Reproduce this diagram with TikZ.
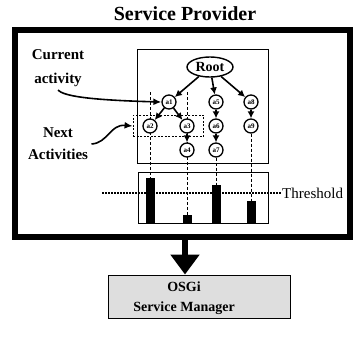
\documentclass[tikz,border=0pt]{standalone}
\usepackage{fontspec}
\setmainfont{Liberation Serif}
\usetikzlibrary{arrows.meta,shapes.geometric,fit}

\begin{document}
\begin{tikzpicture}[
    x=1pt, y=-1pt,
    act/.style={
        draw,
        circle,
        fill=white,
        line width=1.3pt,
        minimum size=14pt,
        inner sep=0pt,
        font=\bfseries\fontsize{7}{7}\selectfont,
      },
    bar/.style={fill=black, minimum width=9pt, inner sep=0pt, anchor=south},
    lbl/.style={align=center, font=\bfseries\fontsize{15}{24}\selectfont},
    guide/.style={line width=1pt, dash pattern=on 3pt off 2pt},
    pointer/.style={line width=1.6pt, -{Latex[length=8pt,width=7pt]}},
    every edge/.append style={line width=1.6pt, -{Latex[length=7pt,width=7pt]}},
  ]
  \useasboundingbox (0,0) rectangle (355,338);
  \node[font=\bfseries\fontsize{20}{20}\selectfont] (title) at (185,14) {Service Provider};
  \node[draw, line width=6pt, minimum width=335pt, minimum height=207pt] (provider) at (182.5,133.5) {};
  \node[draw, line width=0.9pt, minimum width=131pt, minimum height=114pt] (tree) at (202.5,106) {};
  \node[draw, line width=0.9pt, minimum width=130pt, minimum height=51pt] (chart) at (203,197.5) {};
  \node[lbl] (current) at (58,68) {Current\\activity};
  \node[lbl, font=\bfseries\fontsize{15}{22}\selectfont] (nextlbl) at (58,144) {Next\\Activities};
  % bars
  \node[bar, minimum height=45pt] (b1) at (150,223) {};
  \node[bar, minimum height=8pt] (b2) at (187,223) {};
  \node[bar, minimum height=38pt] (b3) at (216,223) {};
  \node[bar, minimum height=22pt] (b4) at (251,223) {};
  \coordinate (g1) at (150,92);
  \coordinate (g2) at (187,92);
  \draw[guide] (g1) -- (b1.north);
  \draw[guide] (g2) -- (b2.north);
  % activities
  \node[draw, ellipse, line width=1.4pt, minimum width=46pt, minimum height=20pt, inner sep=0pt,
        font=\bfseries\fontsize{14}{14}\selectfont] (root) at (210,67) {Root};
  \foreach \Name/\X/\Y in {a1/169/102, a2/150/126, a3/187/126, a4/187/150,
                            a5/216/102, a6/216/126, a7/216/150, a8/251/102, a9/251/126}
  \node[act] (\Name) at (\X,\Y) {\Name};
  \path
  (root) edge (a1)
  (root) edge (a5)
  (root) edge (a8)
  (a1) edge (a2)
  (a1) edge (a3)
  (a3) edge (a4)
  (a5) edge (a6)
  (a6) edge (a7)
  (a8) edge (a9)
  ;
  \draw[guide] (a7.south) -- (b3.north);
  \draw[guide] (a9.south) -- (b4.north);
  \node[draw, line width=1.6pt, dash pattern=on 2pt off 1.5pt, inner xsep=9pt, inner ysep=3pt, fit=(a2)(a3)] (next) {};
  % threshold
  \coordinate (tstart) at (102,193);
  \node[anchor=west, inner sep=1pt, font=\fontsize{15}{15}\selectfont] (thr) at (281,193) {Threshold};
  \draw[line width=1.3pt, dash pattern=on 1.5pt off 1.5pt] (tstart) -- (thr.west);
  \draw[pointer] (current.south) .. controls (64,96) and (88,100) .. (a1.west);
  \draw[pointer] (nextlbl.east) .. controls (108,143) and (110,124) .. (next.west);
  % manager
  \node[draw, line width=0.9pt, fill=black!13, minimum width=182pt, minimum height=43pt] (manager) at (199,296.5) {};
  \node[align=center, font=\bfseries\fontsize{14}{20}\selectfont] (mgrtext) at (184,298) {OSGi\\Service Manager};
  \coordinate (down) at (185,0);
  \draw[line width=6pt, -{Triangle[width=28pt,length=20pt]}] (provider.south -| down) -- (manager.north -| down);
\end{tikzpicture}
\end{document}
